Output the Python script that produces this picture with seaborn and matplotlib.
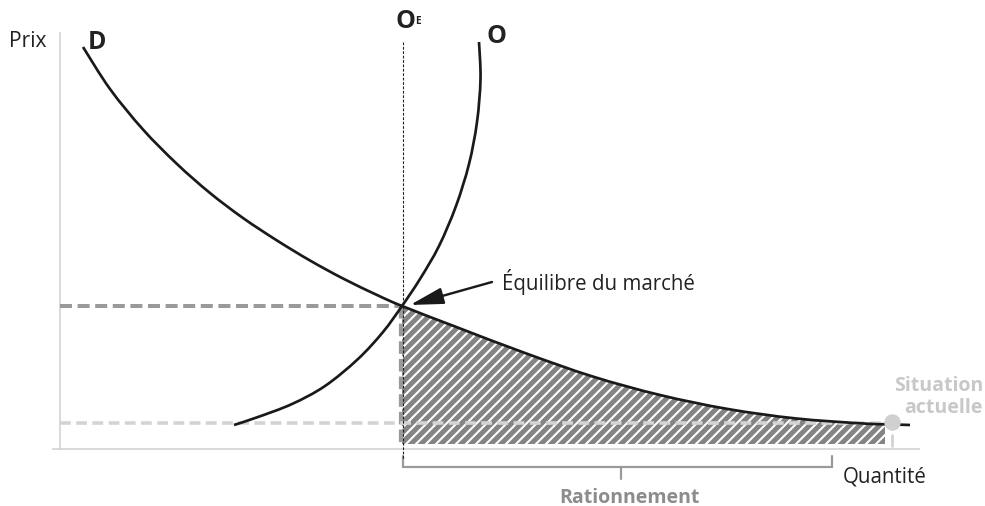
import matplotlib
matplotlib.use("Agg")
import matplotlib.pyplot as plt
from matplotlib.path import Path
from matplotlib.patches import PathPatch
import seaborn as sns

# ---- data (quantity / price units of the diagram) ----
D_q = [23, 50, 83, 117, 150, 183, 217, 250, 283, 317, 342, 397.6, 465, 532.7, 600, 667.8, 735.4, 803, 825, 850]
D_p = [402, 360, 319.5, 285, 256, 231, 208.5, 188.5, 170.5, 154, 143, 121.5, 96, 72.5, 54, 40, 30.6, 25.5, 24.8, 24]

O_q = [174, 198, 232, 265, 298, 323, 342, 360, 379, 396, 409, 417, 420.5, 419]
O_p = [24, 32, 45, 63, 90, 117, 143, 170, 203, 243, 285, 327, 370, 407]

eq_q, eq_p = 342, 143          # market equilibrium
cur_q, cur_p = 832, 27         # current situation
cur_price = 26                 # current (regulated) price
ration_start, ration_end = 342, 772
ration_mid = 561
hatch_bottom = 5
hatch_end = 825

labels = {
    "price": "Prix",
    "qty": "Quantité",
    "D": "D",
    "O": "O",
    "OE": "O",
    "OE_sub": "E",
    "eq": "Équilibre du marché",
    "ration": "Rationnement",
    "cur1": "Situation",
    "cur2": "actuelle",
}

DPI = 120
sns.set_theme(style="white")
plt.rcParams["font.family"] = ["Open Sans", "DejaVu Sans"]
plt.rcParams["hatch.color"] = "white"
plt.rcParams["hatch.linewidth"] = 1.25

fig = plt.figure(figsize=(985 / DPI, 507 / DPI), dpi=DPI)
ax = fig.add_axes([0, 0, 1, 1])

px = 72 / DPI  # points per pixel


def smooth_path(xs, ys):
    """Cubic Bezier path passing through the given points (Catmull-Rom control points)."""
    pts = list(zip(xs, ys))
    n = len(pts)
    verts = [pts[0]]
    codes = [Path.MOVETO]
    for i in range(n - 1):
        p0 = pts[i - 1] if i > 0 else pts[i]
        p1 = pts[i]
        p2 = pts[i + 1]
        p3 = pts[i + 2] if i + 2 < n else pts[i + 1]
        c1 = (p1[0] + (p2[0] - p0[0]) / 6, p1[1] + (p2[1] - p0[1]) / 6)
        c2 = (p2[0] - (p3[0] - p1[0]) / 6, p2[1] - (p3[1] - p1[1]) / 6)
        verts += [c1, c2, p2]
        codes += [Path.CURVE4] * 3
    return Path(verts, codes)


def seg(x, y, **kw):
    sns.lineplot(x=x, y=y, sort=False, estimator=None, errorbar=None, ax=ax, **kw)


# axes lines
seg([0, 0], [-1, 417], color="#d2d2d2", lw=1.6 * px, solid_capstyle="butt")
seg([-8, 860], [0, 0], color="#d2d2d2", lw=1.6 * px, solid_capstyle="butt")

# hatched rationing area (under demand, right of equilibrium)
fq = [q for q in D_q if eq_q <= q <= hatch_end]
fp = [p for q, p in zip(D_q, D_p) if eq_q <= q <= hatch_end]
ax.fill_between(fq, fp, hatch_bottom, facecolor="#848484", edgecolor="white",
                hatch="////", linewidth=0, zorder=1)

# dashed reference lines
seg([0, eq_q], [eq_p, eq_p], color="#9a9a9a", lw=4 * px,
    linestyle=(0, (3, 1.4)), zorder=2)
seg([eq_q - 1.5, eq_q - 1.5], [eq_p, hatch_bottom], color="#9a9a9a", lw=4.2 * px,
    linestyle=(0, (3, 1.2)), zorder=2)
seg([0, hatch_end], [cur_price, cur_price], color="#d4d4d4", lw=3.6 * px,
    linestyle=(0, (3, 1.5)), zorder=3)

# OE vertical dotted line
seg([eq_q + 0.5, eq_q + 0.5], [407, -10], color="#222222", lw=1.1 * px,
    linestyle=(0, (2.5, 1.5)), zorder=4)

# demand and supply curves
for xs, ys in ((D_q, D_p), (O_q, O_p)):
    ax.add_patch(PathPatch(smooth_path(xs, ys), fill=False, edgecolor="#1a1a1a",
                           lw=2.7 * px, capstyle="butt", zorder=5))

# current situation marker
ax.plot([cur_q], [cur_p], marker="o", markersize=16.5 * px, color="#d0d0d0",
        markeredgewidth=0, zorder=6)
seg([cur_q, cur_q], [14, 3], color="#d0d0d0", lw=2.6 * px, zorder=6)

# rationing bracket
bc = "#9a9a9a"
seg([ration_start + 0.5, ration_start + 0.5, ration_end, ration_end],
    [-7, -18, -18, -7], color=bc, lw=2.2 * px, solid_joinstyle="miter")
seg([ration_mid, ration_mid], [-18, -30], color=bc, lw=2.2 * px)

# arrow to equilibrium
ax.annotate("", xy=(350, 144), xytext=(432, 167),
            arrowprops=dict(arrowstyle="-|>,head_length=0.85,head_width=0.21",
                            mutation_scale=20, color="#1a1a1a", lw=2.4 * px,
                            shrinkA=0, shrinkB=0), zorder=7)

# texts
tc = "#222222"
ax.text(-51, 403, labels["price"], fontsize=21 * px, color=tc, ha="left", va="baseline")
ax.text(28, 401, labels["D"], fontsize=25 * px, fontweight="bold", color=tc, ha="left", va="baseline")
ax.text(426, 407, labels["O"], fontsize=25 * px, fontweight="bold", color=tc, ha="left", va="baseline")
ax.text(335, 422, labels["OE"], fontsize=25 * px, fontweight="bold", color=tc, ha="left", va="baseline")
ax.text(355, 426, labels["OE_sub"], fontsize=10 * px, fontweight="bold", color=tc, ha="left", va="baseline")
ax.text(442, 160, labels["eq"], fontsize=20.5 * px, color=tc, ha="left", va="baseline")
ax.text(783, -33, labels["qty"], fontsize=20.5 * px, color=tc, ha="left", va="baseline")
ax.text(569, -53, labels["ration"], fontsize=19.5 * px, fontweight="bold", color="#8c8c8c",
        ha="center", va="baseline")
ax.text(923, 59, labels["cur1"], fontsize=19.5 * px, fontweight="bold", color="#c8c8c8",
        ha="right", va="baseline")
ax.text(923, 37, labels["cur2"], fontsize=19.5 * px, fontweight="bold", color="#c8c8c8",
        ha="right", va="baseline")

ax.set_xlim(-60, 925)
ax.set_ylim(-57, 450)
ax.axis("off")
if ax.get_legend() is not None:
    ax.get_legend().remove()

fig.savefig("out.png", dpi=DPI)
